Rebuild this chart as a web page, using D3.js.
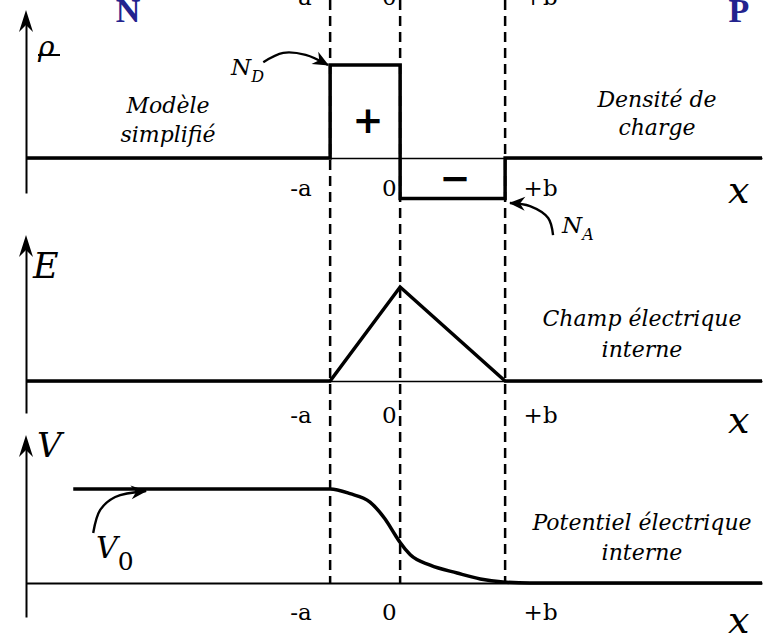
<!DOCTYPE html>
<html lang="fr">
<head>
<meta charset="UTF-8">
<title>Jonction PN - modèle simplifié</title>
<script src="https://d3js.org/d3.v7.min.js"></script>
<style>
  body { margin: 0; background: #fff; }
  svg text { font-family: "DejaVu Serif", serif; fill: #000; }
  .note { font-style: italic; font-size: 22px; }
  .math { font-style: italic; }
  .tickLabel { font-size: 23px; }
  .side { font-family: "Liberation Serif", serif; font-weight: bold; font-size: 34px; fill: #23238e; }
</style>
</head>
<body>
<div id="chart"></div>
<script>
// x in units where a = 2 and b = 3
const xMin = -10.69, xMax = 10.34;
const xTicks = [-2, 0, 3];
const xTickLabels = ["-a", "0", "+b"];

// charge density (N_D on the left, -N_A on the right)
const rhoX = [xMin, -2, -2, 0, 0, 3, 3, xMax];
const rhoY = [0, 0, 2.3, 2.3, -1, -1, 0, 0];

// internal electric field
const eX = [xMin, -2, 0, 3, xMax];
const eY = [0, 0, 1, 0, 0];

// internal potential (V0 = 1)
const vX = [-9.34, -2, -1.43, -0.86, -0.43, -0.14, 0, 0.29, 0.86, 1.63, 2.29, 2.94, 3.71, xMax];
const vY = [1, 1, 0.95, 0.86, 0.68, 0.51, 0.43, 0.3, 0.19, 0.106, 0.043, 0.011, 0, 0];

// annotation arrows (data units of each panel)
const ndArrowX = [-3.91, -3.34, -2.7, -2.06];
const ndArrowY = [2.37, 2.6, 2.55, 2.3];
const naArrowX = [4.37, 4.23, 3.71, 3.14];
const naArrowY = [-1.905, -1.485, -1.19, -1.113];
const v0ArrowX = [-8.77, -8.57, -8.14, -7.26];
const v0ArrowY = [0.532, 0.777, 0.915, 0.979];

const W = 772, H = 636;
const x = d3.scaleLinear().domain([xMin, xMax]).range([26, 762]);

const yRho = d3.scaleLinear().domain([0, 2.3]).range([158, 65]);
const yE = d3.scaleLinear().domain([0, 1]).range([381, 287]);
const yV = d3.scaleLinear().domain([0, 1]).range([583, 489]);

const svg = d3.select("#chart").append("svg")
  .attr("width", W).attr("height", H);

// arrow head for the annotations
svg.append("defs").append("marker")
  .attr("id", "head")
  .attr("markerUnits", "userSpaceOnUse")
  .attr("markerWidth", 20).attr("markerHeight", 20)
  .attr("refX", 0).attr("refY", 0)
  .attr("orient", "auto")
  .attr("overflow", "visible")
  .append("path")
  .attr("d", "M1,0 L-15,-7 L-10,0 L-15,7 Z")
  .attr("fill", "#000");

// dashed verticals at -a, 0, +b
svg.selectAll(".guide")
  .data(xTicks)
  .enter().append("line")
  .attr("class", "guide")
  .attr("x1", d => x(d)).attr("x2", d => x(d))
  .attr("y1", 0).attr("y2", yV(0))
  .attr("stroke", "#000")
  .attr("stroke-width", 2.5)
  .attr("stroke-dasharray", "10,6");

// horizontal axis with the tick labels placed beside the guides
function xAxisAt(baseline, labelBaseline, domainWidth) {
  const axis = d3.axisBottom(x)
    .tickValues(xTicks)
    .tickFormat((d, i) => xTickLabels[i])
    .tickSize(0)
    .tickSizeOuter(0);
  const g = svg.append("g")
    .attr("transform", `translate(0,${baseline})`)
    .call(axis)
    .attr("font-family", null)
    .attr("font-size", null);
  if (domainWidth) {
    g.select(".domain").attr("stroke", "#000").attr("stroke-width", domainWidth);
  } else {
    g.select(".domain").remove();
  }
  g.selectAll(".tick text")
    .attr("class", "tickLabel")
    .attr("y", labelBaseline - baseline)
    .attr("dy", 0)
    .attr("text-anchor", d => d > 0 ? "start" : "end")
    .attr("dx", d => d > 0 ? 18 : (d < 0 ? -19 : -4));
  return g;
}

// labels cut by the top edge of the picture
xAxisAt(0, 5, 0);
xAxisAt(yRho(0), 196, 1.5);
xAxisAt(yE(0), 423, 1.5);
xAxisAt(yV(0), 620, 2.2);

// vertical axes with arrows
const yAxes = [
  { top: 10, bottom: 193 },
  { top: 235, bottom: 413 },
  { top: 435, bottom: 617 }
];
yAxes.forEach(a => {
  const ax = d3.axisLeft(d3.scaleLinear().range([a.bottom, a.top + 6])).ticks(0).tickSizeOuter(0);
  const g = svg.append("g").attr("transform", `translate(${x(xMin)},0)`).call(ax);
  g.select(".domain").attr("stroke", "#000").attr("stroke-width", 2);
  svg.append("path")
    .attr("d", `M${x(xMin)},${a.top} L${x(xMin) - 7},${a.top + 22} L${x(xMin)},${a.top + 15} L${x(xMin) + 7},${a.top + 22} Z`)
    .attr("fill", "#000");
});

// curves
const zip = (xs, ys) => xs.map((v, i) => [v, ys[i]]);

svg.append("path")
  .datum(zip(rhoX, rhoY))
  .attr("d", d3.line().x(d => x(d[0])).y(d => yRho(d[1])))
  .attr("fill", "none").attr("stroke", "#000")
  .attr("stroke-width", 3.5).attr("stroke-linejoin", "miter");

svg.append("path")
  .datum(zip(eX, eY))
  .attr("d", d3.line().x(d => x(d[0])).y(d => yE(d[1])))
  .attr("fill", "none").attr("stroke", "#000")
  .attr("stroke-width", 3.5);

svg.append("path")
  .datum(zip(vX, vY))
  .attr("d", d3.line().curve(d3.curveMonotoneX).x(d => x(d[0])).y(d => yV(d[1])))
  .attr("fill", "none").attr("stroke", "#000")
  .attr("stroke-width", 3.5);

// annotation arrows
function arrow(xs, ys, yScale) {
  svg.append("path")
    .datum(zip(xs, ys))
    .attr("d", d3.line().curve(d3.curveCatmullRom).x(d => x(d[0])).y(d => yScale(d[1])))
    .attr("fill", "none").attr("stroke", "#000")
    .attr("stroke-width", 2.4)
    .attr("marker-end", "url(#head)");
}
arrow(ndArrowX, ndArrowY, yRho);
arrow(naArrowX, naArrowY, yRho);
arrow(v0ArrowX, v0ArrowY, yV);

// sign of the space charge
svg.append("text").attr("x", 368).attr("y", 133)
  .attr("text-anchor", "middle")
  .style("font-family", "DejaVu Sans").style("font-weight", "bold").style("font-size", "37px")
  .text("+");
svg.append("text").attr("x", 455).attr("y", 191)
  .attr("text-anchor", "middle")
  .style("font-family", "DejaVu Sans").style("font-weight", "bold").style("font-size", "37px")
  .text("\u2212");

// N and P sides
svg.append("text").attr("class", "side").attr("x", 128).attr("y", 22).attr("text-anchor", "middle").text("N");
svg.append("text").attr("class", "side").attr("x", 739).attr("y", 22).attr("text-anchor", "middle").text("P");

// axis names
svg.append("text").attr("class", "math").attr("x", 38).attr("y", 56).style("font-size", "28px").text("ρ");
svg.append("line").attr("x1", 38).attr("x2", 60).attr("y1", 55).attr("y2", 55)
  .attr("stroke", "#000").attr("stroke-width", 2);
svg.append("text").attr("class", "math").attr("x", 33).attr("y", 278).style("font-size", "35px").text("E");
svg.append("text").attr("class", "math").attr("x", 37).attr("y", 457).style("font-size", "34px").text("V");

[203, 433, 633].forEach(b => {
  svg.append("text").attr("class", "math").attr("x", 728).attr("y", b).style("font-size", "38px").text("x");
});

// N_D, N_A, V_0
const nd = svg.append("text").attr("class", "math").attr("x", 231).attr("y", 75).style("font-size", "23px");
nd.append("tspan").text("N");
nd.append("tspan").attr("dy", 7).style("font-size", "16px").text("D");

const na = svg.append("text").attr("class", "math").attr("x", 562).attr("y", 233).style("font-size", "23px");
na.append("tspan").text("N");
na.append("tspan").attr("dy", 7).style("font-size", "16px").text("A");

const v0 = svg.append("text").attr("x", 96).attr("y", 558);
v0.append("tspan").attr("class", "math").style("font-size", "30px").text("V");
v0.append("tspan").attr("dy", 12).style("font-size", "25px").text("0");

// descriptive notes
function note(lines, cx, firstBaseline, step) {
  const t = svg.append("text").attr("class", "note").attr("text-anchor", "middle");
  lines.forEach((s, i) => {
    t.append("tspan").attr("x", cx).attr("y", firstBaseline + i * step).text(s);
  });
}
note(["Modèle", "simplifié"], 168, 113, 29);
note(["Densité de", "charge"], 657, 107, 28);
note(["Champ électrique", "interne"], 642, 326, 31);
note(["Potentiel électrique", "interne"], 642, 530, 30);
</script>
</body>
</html>
